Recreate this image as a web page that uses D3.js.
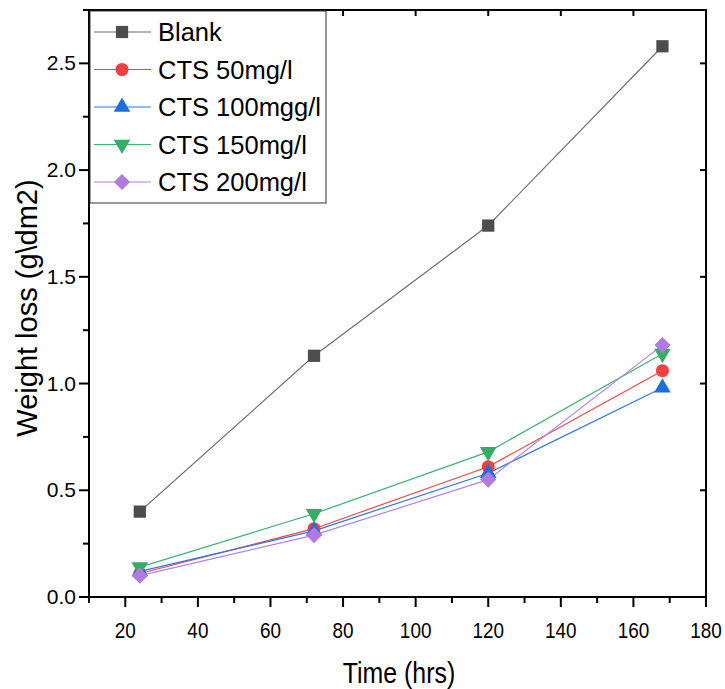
<!DOCTYPE html>
<html>
<head>
<meta charset="utf-8">
<script src="https://cdn.jsdelivr.net/npm/d3@7"></script>
<style>
  body { margin: 0; background: #fff; }
  text { font-family: "Liberation Sans", Arial, sans-serif; fill: #000; }
</style>
</head>
<body>
<div id="chart"></div>
<script>
// data
var times = [24, 72, 120, 168];
var blank = [0.40, 1.13, 1.74, 2.58];
var cts50 = [0.11, 0.32, 0.61, 1.06];
var cts100 = [0.12, 0.31, 0.58, 0.98];
var cts150 = [0.14, 0.39, 0.68, 1.14];
var cts200 = [0.10, 0.29, 0.55, 1.18];
var seriesNames = ["Blank", "CTS 50mg/l", "CTS 100mgg/l", "CTS 150mg/l", "CTS 200mg/l"];
var xTicks = [20, 40, 60, 80, 100, 120, 140, 160, 180];
var yTicks = [0.0, 0.5, 1.0, 1.5, 2.0, 2.5];

var width = 725, height = 689;
var margin = { top: 10, right: 19, bottom: 92, left: 89 };

var series = [
  { name: seriesNames[0], values: blank, line: "#6e6e6e", fill: "#4d4d4d", shape: d3.symbolSquare, size: 150, rot: 0 },
  { name: seriesNames[1], values: cts50, line: "#f04848", fill: "#f04040", shape: d3.symbolCircle, size: 135, rot: 0 },
  { name: seriesNames[2], values: cts100, line: "#2a78e4", fill: "#1f6ee0", shape: d3.symbolTriangle, size: 120, rot: 0 },
  { name: seriesNames[3], values: cts150, line: "#3cb371", fill: "#35ad68", shape: d3.symbolTriangle, size: 120, rot: 180 },
  { name: seriesNames[4], values: cts200, line: "#b482e6", fill: "#b07ae0", shape: d3.symbolSquare, size: 130, rot: 45 }
];

var svg = d3.select("#chart").append("svg")
  .attr("width", width)
  .attr("height", height);

var x = d3.scaleLinear().domain([10, 180]).range([margin.left, width - margin.right]);
var y = d3.scaleLinear().domain([0, 2.75]).range([height - margin.bottom, margin.top]);

var minorX = d3.range(10, 181, 10);
var minorY = d3.range(0, 2.76, 0.25);

// bottom axis, ticks outward
var bottom = svg.append("g")
  .attr("transform", "translate(0," + (height - margin.bottom) + ")");
bottom.selectAll("line.t")
  .data(minorX)
  .enter().append("line")
  .attr("x1", d => x(d)).attr("x2", d => x(d))
  .attr("y1", 0).attr("y2", d => (d % 20 === 0 ? 10 : 6))
  .attr("stroke", "#000").attr("stroke-width", 2);
bottom.selectAll("text")
  .data(xTicks)
  .enter().append("text")
  .attr("transform", d => "translate(" + x(d) + ",41) scale(0.86,1)")
  .attr("text-anchor", "middle")
  .style("font-size", "22px")
  .text(d => d);

// left axis, ticks outward
var left = svg.append("g")
  .attr("transform", "translate(" + margin.left + ",0)");
left.selectAll("line")
  .data(minorY)
  .enter().append("line")
  .attr("x1", 0).attr("x2", (d, i) => (i % 2 === 0 ? -10 : -6))
  .attr("y1", d => y(d)).attr("y2", d => y(d))
  .attr("stroke", "#000").attr("stroke-width", 2);
left.selectAll("text")
  .data(yTicks)
  .enter().append("text")
  .attr("x", -13)
  .attr("y", d => y(d) + 7)
  .attr("text-anchor", "end")
  .style("font-size", "21px")
  .text(d => d.toFixed(1));

// top and right: ticks pointing inward
svg.append("g").selectAll("line")
  .data(xTicks)
  .enter().append("line")
  .attr("x1", d => x(d)).attr("x2", d => x(d))
  .attr("y1", margin.top).attr("y2", margin.top + 6)
  .attr("stroke", "#000").attr("stroke-width", 2);
svg.append("g").selectAll("line")
  .data(yTicks)
  .enter().append("line")
  .attr("x1", width - margin.right).attr("x2", width - margin.right - 6)
  .attr("y1", d => y(d)).attr("y2", d => y(d))
  .attr("stroke", "#000").attr("stroke-width", 2);

// frame
svg.append("rect")
  .attr("x", margin.left).attr("y", margin.top)
  .attr("width", width - margin.left - margin.right)
  .attr("height", height - margin.top - margin.bottom)
  .attr("fill", "none")
  .attr("stroke", "#000").attr("stroke-width", 2);

// lines and markers
var line = d3.line()
  .x((d, i) => x(times[i]))
  .y(d => y(d));

series.forEach(function(s) {
  svg.append("path")
    .datum(s.values)
    .attr("d", line)
    .attr("fill", "none")
    .attr("stroke", s.line)
    .attr("stroke-width", 1.2);
});
series.forEach(function(s) {
  svg.selectAll(null)
    .data(s.values)
    .enter().append("path")
    .attr("d", d3.symbol().type(s.shape).size(s.size))
    .attr("transform", (d, i) => "translate(" + x(times[i]) + "," + y(d) + ") rotate(" + s.rot + ")")
    .attr("fill", s.fill);
});

// legend
var legend = svg.append("g");
legend.append("rect")
  .attr("x", margin.left + 1).attr("y", margin.top + 1)
  .attr("width", 236).attr("height", 192)
  .attr("fill", "#fff")
  .attr("stroke", "#333").attr("stroke-width", 1);
var rows = legend.selectAll("g.row")
  .data(series)
  .enter().append("g")
  .attr("transform", (d, i) => "translate(0," + (32 + i * 37.5) + ")");
rows.append("line")
  .attr("x1", 94).attr("x2", 151)
  .attr("y1", 0).attr("y2", 0)
  .attr("stroke", d => d.line).attr("stroke-width", 1.2);
rows.append("path")
  .attr("d", d => d3.symbol().type(d.shape).size(d.size)())
  .attr("transform", d => "translate(122,0) rotate(" + d.rot + ")")
  .attr("fill", d => d.fill);
rows.append("text")
  .attr("x", 158).attr("y", 9)
  .style("font-size", "25.5px")
  .text(d => d.name);

// axis titles
svg.append("text")
  .attr("transform", "translate(399,683) scale(0.83,1)")
  .attr("text-anchor", "middle")
  .style("font-size", "30px")
  .text("Time (hrs)");
svg.append("text")
  .attr("transform", "translate(37,308) rotate(-90)")
  .attr("text-anchor", "middle")
  .style("font-size", "29px")
  .text("Weight loss (g\\dm2)");
</script>
</body>
</html>
